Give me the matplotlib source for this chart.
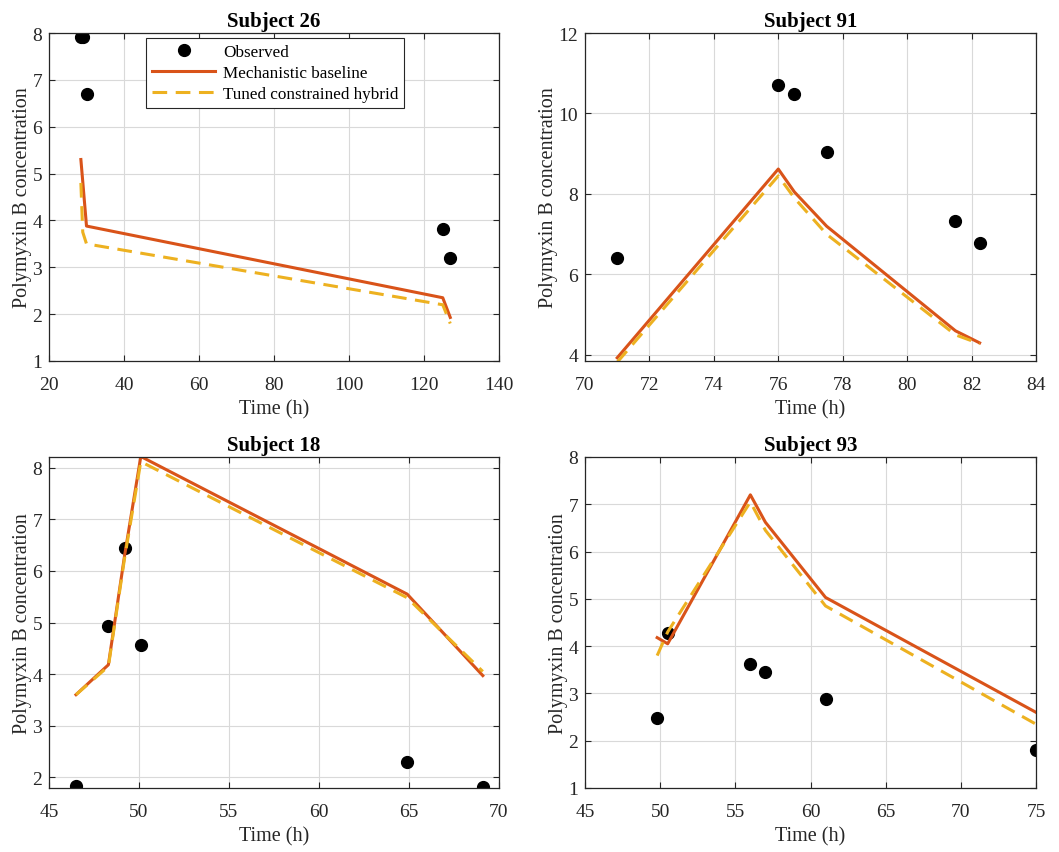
import matplotlib.pyplot as plt

plt.rcParams['font.family'] = ['Liberation Serif', 'DejaVu Serif']

RED = '#D95319'
YEL = '#EDB120'

# subject 26
s26_t = [28.5, 29.0, 30.0, 125.0, 127.0]
s26_obs = [7.92, 7.92, 6.7, 3.82, 3.2]
s26_mech = [5.3, 4.83, 3.88, 2.35, 1.93]
s26_hyb = [4.8, 3.75, 3.5, 2.2, 1.8]

# subject 91
s91_t = [71.0, 76.0, 76.5, 77.5, 81.5, 82.25]
s91_obs = [6.4, 10.7, 10.48, 9.05, 7.33, 6.78]
s91_mech = [3.93, 8.62, 8.05, 7.2, 4.6, 4.3]
s91_hyb = [3.82, 8.45, 7.9, 7.0, 4.5, 4.28]

# subject 18
s18_t = [46.5, 48.3, 49.2, 50.1, 64.9, 69.1]
s18_obs = [1.83, 4.93, 6.45, 4.57, 2.3, 1.8]
s18_mech = [3.6, 4.18, 6.3, 8.22, 5.55, 3.97]
s18_hyb = [3.6, 4.15, 6.25, 8.12, 5.48, 4.05]

# subject 93
s93_t = [49.8, 50.5, 56.0, 57.0, 61.0, 75.0]
s93_obs = [2.47, 4.27, 3.63, 3.45, 2.88, 1.8]
s93_mech = [4.18, 4.05, 7.2, 6.62, 5.03, 2.6]
s93_hyb = [3.8, 4.3, 7.05, 6.45, 4.85, 2.35]

subjects = [
    ('Subject 26', s26_t, s26_obs, s26_mech, s26_hyb, (20, 140), (1, 8), range(20, 141, 20), range(1, 9)),
    ('Subject 91', s91_t, s91_obs, s91_mech, s91_hyb, (70, 84), (3.85, 12), range(70, 85, 2), range(4, 13, 2)),
    ('Subject 18', s18_t, s18_obs, s18_mech, s18_hyb, (45, 70), (1.79, 8.21), range(45, 71, 5), range(2, 9)),
    ('Subject 93', s93_t, s93_obs, s93_mech, s93_hyb, (45, 75), (1, 8), range(45, 76, 5), range(1, 9)),
]

W, H = 1059, 853
# axes boxes in pixels: left, top, right, bottom
boxes = [(49, 34, 499, 362), (585, 34, 1036, 362), (49, 458, 499, 789), (585, 458, 1036, 789)]

fig = plt.figure(figsize=(W / 100, H / 100), dpi=100)

for i, (title, t, obs, mech, hyb, xl, yl, xt, yt) in enumerate(subjects):
    l, tp, r, b = boxes[i]
    ax = fig.add_axes([l / W, 1 - b / H, (r - l) / W, (b - tp) / H])
    ax.plot(t, obs, 'o', color='black', markersize=8.5, label='Observed')
    ax.plot(t, mech, '-', color=RED, lw=2.2, label='Mechanistic baseline')
    ax.plot(t, hyb, '--', color=YEL, lw=2.2, dashes=(4.8, 2.8), label='Tuned constrained hybrid')
    ax.set_xlim(xl)
    ax.set_ylim(yl)
    ax.set_xticks(list(xt))
    ax.set_yticks(list(yt))
    ax.grid(True, color='#d9d9d9', lw=0.8)
    ax.set_axisbelow(True)
    ax.tick_params(direction='in', top=True, right=True, labelsize=14, length=4,
                   color='#262626', labelcolor='#262626')
    ax.tick_params(axis='x', pad=10.5)
    ax.tick_params(axis='y', pad=5)
    for sp in ax.spines.values():
        sp.set_color('#262626')
        sp.set_linewidth(0.9)
    ax.set_title(title, fontsize=15, fontweight='bold', pad=5)
    ax.set_xlabel('Time (h)', fontsize=14.5, color='#262626', labelpad=5)
    ax.set_ylabel('Polymyxin B concentration', fontsize=14.5, color='#262626', labelpad=0)
    if i == 0:
        leg = ax.legend(loc='upper left', bbox_to_anchor=(0.216, 0.985), fontsize=12.3,
                        fancybox=False, framealpha=1, edgecolor='#262626',
                        borderpad=0.35, labelspacing=0.3, handlelength=3.7,
                        handletextpad=0.45, borderaxespad=0)
        leg.get_frame().set_linewidth(0.8)

fig.savefig('out.png', dpi=100)
